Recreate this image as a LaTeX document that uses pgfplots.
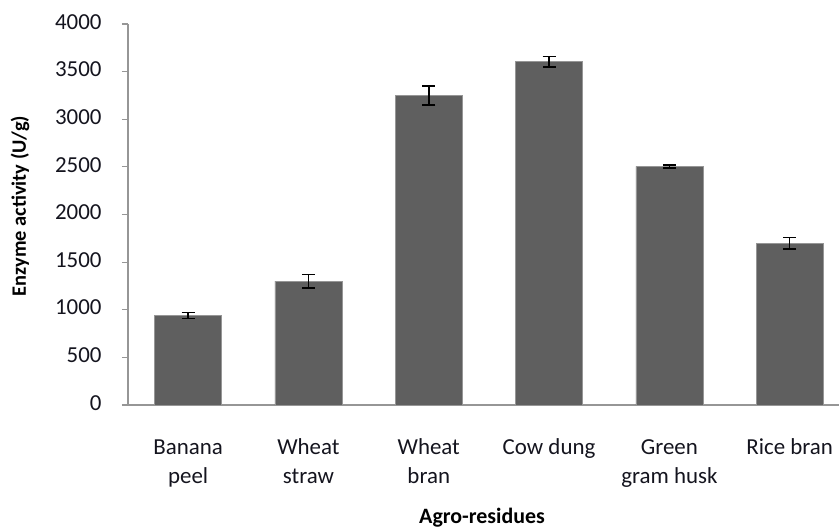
\documentclass[border=0pt]{standalone}
\usepackage{fontspec}
\setmainfont{Carlito}
\usepackage{pgfplots}
\pgfplotsset{compat=1.18}
\definecolor{barfill}{RGB}{95,95,95}
\definecolor{baredge}{RGB}{150,150,150}
\definecolor{axisgray}{RGB}{150,150,150}
\definecolor{txt}{RGB}{20,20,30}
\begin{document}
\begin{tikzpicture}
\path[use as bounding box] (-128bp,-127bp) rectangle (711bp,405bp);
\begin{axis}[
  scale only axis,
  width=711bp, height=381bp,
  xmin=-0.5, xmax=5.41,
  ymin=0, ymax=4000,
  axis x line*=bottom, axis y line*=left,
  axis line style={axisgray, line width=1.2bp, -},
  ytick={0,500,...,4000},
  xtick={0,1,2,3,4,5},
  xticklabels={Banana\\peel, Wheat\\straw, Wheat\\bran, Cow dung, Green\\gram husk, Rice bran},
  major x tick style={draw=none},
  major y tick style={axisgray, line width=1.2bp},
  tick align=outside,
  major tick length=6bp,
  y tick label style={font=\fontsize{23}{26}\selectfont, text=txt, anchor=east, xshift=-17bp},
  x tick label style={font=\fontsize{23}{29}\selectfont, text=txt, align=center, anchor=north, yshift=-20bp},
  typeset ticklabels with strut,
  /pgf/number format/assume math mode=true,
  scaled y ticks=false,
  yticklabel style={/pgf/number format/1000 sep={}},
  ylabel={\textbf{Enzyme activity (U/g)}},
  ylabel style={font=\fontsize{20.5}{24}\selectfont, text=black, at={(axis description cs:-0.152,0.522)}, anchor=center},
  xlabel={\textbf{Agro-residues}},
  xlabel style={font=\fontsize{22}{24}\selectfont, text=black, at={(axis description cs:0.498,-0.2966)}, anchor=center},
  clip=false,
]
\addplot[ybar, bar width=67bp, fill=barfill, draw=baredge, line width=0.6bp,
  error bars/.cd, y dir=both, y explicit,
  error bar style={black, line width=1.6bp},
  error mark options={black, rotate=90, mark size=6.5bp, line width=1.6bp}]
  coordinates {
  (0,940) +- (0,30)
  (1,1300) +- (0,70)
  (2,3250) +- (0,100)
  (3,3605) +- (0,55)
  (4,2505) +- (0,15)
  (5,1700) +- (0,60)
};
\end{axis}
\end{tikzpicture}
\end{document}
